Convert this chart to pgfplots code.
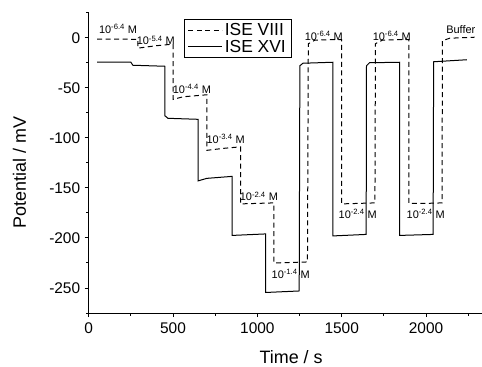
\documentclass[border=0pt]{standalone}
\usepackage{pgfplots}
\pgfplotsset{compat=1.18}
\usepackage{fontspec}
\setmainfont{Liberation Sans}
\begin{document}
\begin{tikzpicture}
\begin{axis}[
  name=ax,
  scale only axis,
  width=393bp, height=300.3bp,
  xmin=0, xmax=2330, ymin=-275, ymax=25,
  axis lines=left,
  axis line style={-, line width=0.9bp},
  xtick={0,500,1000,1500,2000},
  ytick={-250,-200,-150,-100,-50,0},
  minor xtick={250,750,1250,1750,2250},
  minor ytick={-275,-225,-175,-125,-75,-25,25},
  tick align=outside,
  major tick length=4bp, minor tick length=2.5bp,
  tick style={line width=0.9bp, black},
  /pgf/number format/assume math mode=true,
  /pgf/number format/1000 sep={},
  ticklabel style={font=\fontsize{15.5}{18}\selectfont},
  xticklabel style={yshift=-2bp},
  yticklabel style={xshift=-1bp},
  xlabel={Time / s},
  ylabel={Potential / mV},
  label style={font=\fontsize{18}{21}\selectfont},
  xlabel style={at={(axis description cs:0.515,0)}, anchor=base, yshift=-50.5bp},
  ylabel style={at={(axis description cs:-0.176,0.468)}, anchor=center},
  legend style={at={(0.2425,0.979)}, anchor=north west, draw=black, line width=0.6bp,
    font=\fontsize{17.5}{20}\selectfont, inner xsep=3.5bp, inner ysep=2bp, row sep=-1bp,
    cells={anchor=west}},
  legend image code/.code={\draw[#1] (0bp,0bp) -- (34bp,0bp);},
  clip=false,
]
\addplot[black, line width=1bp, dash pattern=on 5bp off 3.5bp] coordinates {
(50,-1.4) (150,-1.4) (292,-1.6) (292,-10.4) (400,-8) (500,-6.4)
(500,-61.6) (560,-59) (700,-57)
(700,-112.5) (800,-110.5) (900,-109)
(900,-166) (1000,-165.5) (1098,-165)
(1098,-225) (1200,-224.5) (1297,-224)
(1302,-6) (1340,-2.5) (1420,-2) (1499,-2)
(1499,-166) (1600,-165.5) (1697,-165)
(1700,-6) (1740,-2.5) (1820,-2) (1898,-2)
(1898,-165.5) (2000,-165.5) (2095,-165)
(2097,-3) (2140,-0.5) (2288,0.5)
};
\addlegendentry{ISE VIII}
\addplot[black, line width=1bp] coordinates {
(50,-24.5) (250,-24.5) (262,-27.5) (452,-28.5)
(452,-78) (470,-80.5) (649,-81.5)
(649,-143) (700,-140.5) (851,-138.5)
(851,-197.5) (1049,-196)
(1049,-254.5) (1248,-253)
(1252,-28) (1270,-25.5) (1448,-24.5)
(1448,-198) (1645,-196.5)
(1647,-28) (1665,-25) (1844,-24.5)
(1844,-197.5) (2042,-196.5)
(2045,-24) (2242,-22)
};
\addlegendentry{ISE XVI}
\begin{scope}[every node/.style={font=\fontsize{11}{13}\selectfont, inner sep=0pt}]
\node at (axis cs:174,9.3) {10\textsuperscript{-6.4} M};
\node at (axis cs:398,-2.7) {10\textsuperscript{-5.4} M};
\node at (axis cs:612,-51.6) {10\textsuperscript{-4.4} M};
\node at (axis cs:812,-101.5) {10\textsuperscript{-3.4} M};
\node at (axis cs:1009,-158.5) {10\textsuperscript{-2.4} M};
\node at (axis cs:1198,-236) {10\textsuperscript{-1.4} M};
\node at (axis cs:1394,2.3) {10\textsuperscript{-6.4} M};
\node at (axis cs:1595,-176.3) {10\textsuperscript{-2.4} M};
\node at (axis cs:1797,2.3) {10\textsuperscript{-6.4} M};
\node at (axis cs:1998,-176.3) {10\textsuperscript{-2.4} M};
\node at (axis cs:2206,8.3) {Buffer};
\end{scope}
\end{axis}
\pgfresetboundingbox
\path ([xshift=-88.7bp,yshift=-54bp]ax.south west) rectangle ([xshift=0.3bp,yshift=12.7bp]ax.north east);
\end{tikzpicture}
\end{document}
